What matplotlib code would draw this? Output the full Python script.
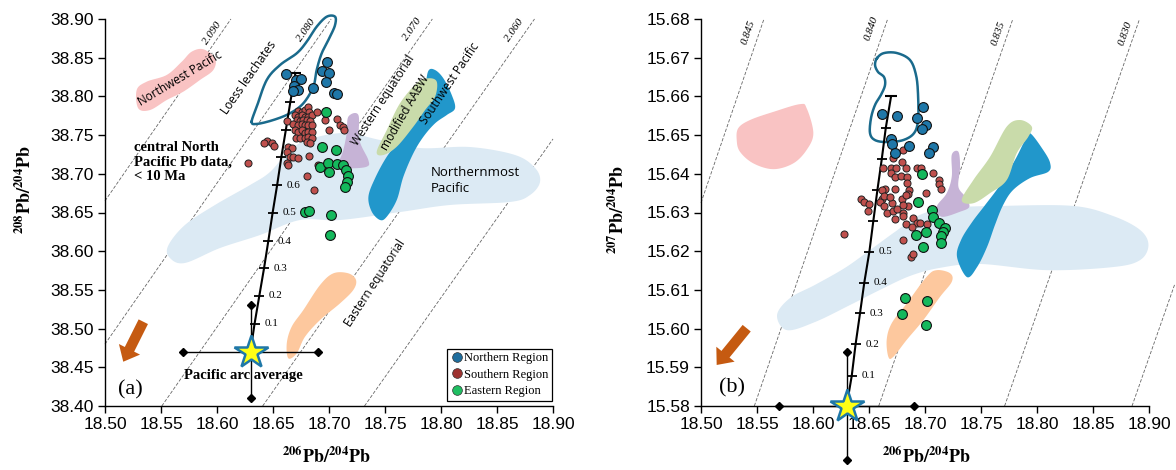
import numpy as np
import matplotlib
matplotlib.use('Agg')
import matplotlib.pyplot as plt
from matplotlib.lines import Line2D
from matplotlib.patches import FancyArrowPatch
from matplotlib.ticker import FormatStrFormatter

plt.rcParams['font.family'] = ['Liberation Sans', 'DejaVu Sans']
plt.rcParams['mathtext.fontset'] = 'stix'

SERIF = 'Liberation Serif'
REGION_FONT = 'Open Sans'

# ---------------- axes ----------------
x_ticks = [18.50, 18.55, 18.60, 18.65, 18.70, 18.75, 18.80, 18.85, 18.90]
y_ticks_a = [38.40, 38.45, 38.50, 38.55, 38.60, 38.65, 38.70, 38.75, 38.80, 38.85, 38.90]
y_ticks_b = [15.58, 15.59, 15.60, 15.61, 15.62, 15.63, 15.64, 15.65, 15.66, 15.67, 15.68]

# ---------------- sample data: 206Pb/204Pb vs 208Pb/204Pb ----------------
north_a_x = [18.6616, 18.6706, 18.6750, 18.6690, 18.6726, 18.6681, 18.6980,
             18.6935, 18.7003, 18.6971, 18.6860, 18.7048, 18.7069]
north_a_y = [38.8283, 38.8208, 38.8229, 38.8134, 38.8083, 38.8074, 38.8448,
             38.8328, 38.8306, 38.8190, 38.8112, 38.8048, 38.8027]

south_a_x = [18.6727, 18.6757, 18.6786, 18.6816, 18.6825, 18.6697, 18.6727, 18.6757,
             18.6786, 18.6816, 18.6846, 18.6712, 18.6742, 18.6771, 18.6801, 18.6831,
             18.6623, 18.6682, 18.6727, 18.6757, 18.6786, 18.6816, 18.6846, 18.6697,
             18.6727, 18.6757, 18.6786, 18.6816, 18.6846, 18.6706, 18.6742, 18.6786,
             18.6816, 18.6846, 18.6801, 18.6831, 18.6890, 18.6965, 18.7004, 18.7069,
             18.7099, 18.7129, 18.7135, 18.6638, 18.6667, 18.6623, 18.6652, 18.6682,
             18.6727, 18.6623, 18.6638, 18.6801, 18.6867, 18.6444, 18.6489, 18.6510,
             18.6420, 18.6280, 18.6825, 18.6905]
south_a_y = [38.7812, 38.7803, 38.7825, 38.7859, 38.7803, 38.7760, 38.7739, 38.7760,
             38.7739, 38.7739, 38.7760, 38.7696, 38.7683, 38.7696, 38.7696, 38.7683,
             38.7683, 38.7644, 38.7631, 38.7644, 38.7631, 38.7631, 38.7631, 38.7566,
             38.7545, 38.7566, 38.7523, 38.7545, 38.7545, 38.7459, 38.7459, 38.7459,
             38.7472, 38.7459, 38.7416, 38.7394, 38.7803, 38.7696, 38.7566, 38.7704,
             38.7631, 38.7609, 38.7566, 38.7351, 38.7329, 38.7286, 38.7222, 38.7222,
             38.7200, 38.7136, 38.7114, 38.6972, 38.6791, 38.7428, 38.7394, 38.7360,
             38.7394, 38.7136, 38.7230, 38.7114]

east_a_x = [18.6974, 18.6935, 18.7060, 18.6920, 18.6995, 18.7004, 18.7075, 18.7129,
            18.7152, 18.7173, 18.7164, 18.7143, 18.6786, 18.6825, 18.7016, 18.7010]
east_a_y = [38.7803, 38.7351, 38.7308, 38.7084, 38.7144, 38.7028, 38.7127, 38.7114,
            38.7049, 38.6972, 38.6899, 38.6834, 38.6511, 38.6524, 38.6468, 38.6210]

# ---------------- sample data: 206Pb/204Pb vs 207Pb/204Pb ----------------
north_b_x = [18.6614, 18.6747, 18.6932, 18.6986, 18.7009, 18.6970, 18.6694,
             18.6703, 18.6733, 18.6860, 18.7069, 18.7040]
north_b_y = [15.6554, 15.6549, 15.6543, 15.6573, 15.6526, 15.6515, 15.6489,
             15.6478, 15.6454, 15.6472, 15.6470, 15.6454]

south_b_x = [18.6807, 18.6712, 18.6792, 18.6622, 18.6697, 18.6742, 18.6828, 18.6697,
             18.6733, 18.6783, 18.6837, 18.6926, 18.6962, 18.7069, 18.7128, 18.7128,
             18.7140, 18.7010, 18.6843, 18.6861, 18.6733, 18.6643, 18.6614, 18.6852,
             18.6792, 18.6852, 18.6831, 18.6614, 18.6599, 18.6634, 18.6703, 18.6426,
             18.6456, 18.6503, 18.6495, 18.6658, 18.6718, 18.6807, 18.6733, 18.6801,
             18.6831, 18.6890, 18.6926, 18.6956, 18.7021, 18.6881, 18.6277, 18.6801,
             18.6872, 18.6896, 18.6634, 18.6688, 18.6747, 18.6807]
south_b_y = [15.6461, 15.6440, 15.6431, 15.6414, 15.6414, 15.6416, 15.6416, 15.6403,
             15.6392, 15.6394, 15.6391, 15.6416, 15.6416, 15.6403, 15.6385, 15.6373,
             15.6360, 15.6351, 15.6375, 15.6358, 15.6360, 15.6362, 15.6358, 15.6349,
             15.6336, 15.6317, 15.6345, 15.6336, 15.6328, 15.6317, 15.6325, 15.6336,
             15.6328, 15.6322, 15.6304, 15.6298, 15.6304, 15.6298, 15.6282, 15.6291,
             15.6270, 15.6285, 15.6272, 15.6274, 15.6270, 15.6263, 15.6245, 15.6230,
             15.6186, 15.6192, 15.6342, 15.6341, 15.6310, 15.6319]

east_b_x = [18.6970, 18.6940, 18.7060, 18.7074, 18.7128, 18.7178, 18.7163, 18.7143,
            18.7140, 18.7009, 18.6920, 18.6980, 18.6821, 18.7020, 18.6791, 18.7009]
east_b_y = [15.6400, 15.6328, 15.6306, 15.6289, 15.6273, 15.6259, 15.6250, 15.6239,
            15.6220, 15.6250, 15.6242, 15.6211, 15.6080, 15.6071, 15.6039, 15.6010]

# ---------------- Pacific arc average and mixing curve ----------------
arc_x, arc_xerr = 18.63, 0.06
arc_a_y, arc_a_yerr = 38.47, 0.06
arc_b_y, arc_b_yerr = 15.58, 0.014

mix_frac = [0.0, 0.1, 0.2, 0.3, 0.4, 0.5, 0.6, 0.7, 0.8, 0.9, 1.0]
mix_a_x = [18.630, 18.6335, 18.6378, 18.6420, 18.6458, 18.6497, 18.6537, 18.6575, 18.6615, 18.6655, 18.6700]
mix_a_y = [38.4715, 38.506, 38.5425, 38.578, 38.613, 38.650, 38.6855, 38.722, 38.757, 38.793, 38.830]
mix_b_x = [18.630, 18.6346, 18.6380, 18.6420, 18.6458, 18.6503, 18.6539, 18.6575, 18.6614, 18.6650, 18.6697]
mix_b_y = [15.580, 15.5878, 15.5959, 15.6040, 15.6119, 15.6198, 15.6279, 15.6358, 15.6438, 15.6519, 15.6600]
mix_a_labelled = [0.1, 0.2, 0.3, 0.4, 0.5, 0.6]
mix_b_labelled = [0.1, 0.2, 0.3, 0.4, 0.5]

# reference lines of constant 208Pb/206Pb and 207Pb/206Pb
ratio_a = [2.090, 2.080, 2.070, 2.060, 2.050]
ratio_a_text = ['2.090', '2.080', '2.070', '2.060', None]
ratio_a_text_xy = [(18.596, 38.882), (18.680, 38.885), (18.774, 38.887), (18.865, 38.885)]
ratio_b = [0.845, 0.840, 0.835, 0.830, 0.825]
ratio_b_text = ['0.845', '0.840', '0.835', '0.830', None]
ratio_b_text_xy = [(18.542, 15.6767), (18.6524, 15.6776), (18.7655, 15.6763), (18.8787, 15.6763)]

# ---------------- published fields ----------------
nw_pacific_a = [(18.5283, 38.8083), (18.5372, 38.8190), (18.5551, 38.8277), (18.5685, 38.8448),
                (18.5774, 38.8578), (18.5878, 38.8609), (18.5982, 38.8492), (18.5967, 38.8341),
                (18.5848, 38.8212), (18.5699, 38.8061), (18.5551, 38.7953), (18.5402, 38.7824),
                (18.5297, 38.7846)]
loess_a = [(18.6310, 38.7673), (18.6355, 38.7867), (18.6444, 38.8212), (18.6563, 38.8406),
           (18.6712, 38.8557), (18.6801, 38.8707), (18.6890, 38.8901), (18.6980, 38.9030),
           (18.7054, 38.9030), (18.7054, 38.8922), (18.7009, 38.8771), (18.6935, 38.8557),
           (18.6890, 38.8341), (18.6860, 38.8125), (18.6771, 38.7911), (18.6652, 38.7782),
           (18.6503, 38.7695), (18.6355, 38.7644)]
northernmost_a = [(18.5563, 38.6067), (18.5714, 38.6339), (18.5982, 38.6597), (18.6295, 38.6855),
                  (18.6473, 38.7023), (18.6652, 38.7308), (18.6831, 38.7450), (18.7143, 38.7527),
                  (18.7455, 38.7437), (18.7813, 38.7333), (18.8259, 38.7346), (18.8661, 38.7243),
                  (18.8840, 38.7075), (18.8884, 38.6894), (18.8795, 38.6726), (18.8616, 38.6636),
                  (18.8080, 38.6597), (18.7634, 38.6506), (18.7099, 38.6403), (18.6741, 38.6403),
                  (18.6384, 38.6209), (18.6027, 38.6041), (18.5714, 38.5848), (18.5580, 38.5912)]
w_equatorial_a = [(18.7173, 38.7738), (18.7262, 38.7760), (18.7271, 38.7437), (18.7351, 38.7178),
                  (18.7337, 38.7092), (18.7188, 38.7071), (18.7083, 38.7092), (18.7128, 38.7308),
                  (18.7158, 38.7523)]
aabw_a = [(18.7426, 38.7286), (18.7516, 38.7566), (18.7634, 38.7911), (18.7783, 38.8169),
          (18.7887, 38.8234), (18.7962, 38.8190), (18.7947, 38.7996), (18.7858, 38.7824),
          (18.7753, 38.7609), (18.7605, 38.7350), (18.7485, 38.7243)]
sw_pacific_a = [(18.7888, 38.8332), (18.7947, 38.8341), (18.8021, 38.8234), (18.8096, 38.8018),
                (18.8125, 38.7846), (18.8052, 38.7760), (18.7947, 38.7652), (18.7843, 38.7479),
                (18.7753, 38.7265), (18.7664, 38.6962), (18.7605, 38.6661), (18.7516, 38.6446),
                (18.7456, 38.6403), (18.7382, 38.6510), (18.7352, 38.6704), (18.7411, 38.6942),
                (18.7516, 38.7221), (18.7634, 38.7437), (18.7723, 38.7609), (18.7813, 38.7867),
                (18.7858, 38.8125)]
e_equatorial_a = [(18.6637, 38.4616), (18.6623, 38.4810), (18.6667, 38.5025), (18.6771, 38.5240),
                  (18.6920, 38.5563), (18.7039, 38.5714), (18.7173, 38.5714), (18.7241, 38.5628),
                  (18.7217, 38.5499), (18.7099, 38.5327), (18.6920, 38.5111), (18.6786, 38.4895),
                  (18.6712, 38.4681)]

nw_pacific_b = [(18.5333, 15.6518), (18.5438, 15.6539), (18.5646, 15.6560), (18.5884, 15.6580),
                (18.5944, 15.6569), (18.6003, 15.6505), (18.5944, 15.6462), (18.5824, 15.6427),
                (18.5646, 15.6412), (18.5467, 15.6427), (18.5348, 15.6457), (18.5319, 15.6487)]
loess_b = [(18.6572, 15.6699), (18.6634, 15.6712), (18.6750, 15.6712), (18.6866, 15.6694),
           (18.6920, 15.6655), (18.6938, 15.6604), (18.6938, 15.6539), (18.6902, 15.6505),
           (18.6804, 15.6487), (18.6661, 15.6482), (18.6554, 15.6487), (18.6509, 15.6505),
           (18.6518, 15.6544), (18.6554, 15.6578), (18.6607, 15.6604), (18.6643, 15.6629),
           (18.6634, 15.6650), (18.6581, 15.6663), (18.6554, 15.6681)]
northernmost_b = [(18.5679, 15.6035), (18.5795, 15.6079), (18.6018, 15.6113), (18.6286, 15.6157),
                  (18.6509, 15.6203), (18.6732, 15.6250), (18.6956, 15.6294), (18.7224, 15.6312),
                  (18.7670, 15.6317), (18.8322, 15.6317), (18.8679, 15.6291), (18.8920, 15.6255),
                  (18.8995, 15.6216), (18.8920, 15.6177), (18.8679, 15.6159), (18.8090, 15.6151),
                  (18.7491, 15.6167), (18.7134, 15.6157), (18.6866, 15.6136), (18.6598, 15.6100),
                  (18.6331, 15.6061), (18.6018, 15.6017), (18.5768, 15.5996)]
w_equatorial_b = [(18.7239, 15.6449), (18.7298, 15.6457), (18.7313, 15.6418), (18.7298, 15.6367),
                  (18.7358, 15.6341), (18.7396, 15.6315), (18.7313, 15.6302), (18.7149, 15.6289),
                  (18.7105, 15.6315), (18.7194, 15.6350), (18.7239, 15.6393)]
aabw_b = [(18.7328, 15.6332), (18.7432, 15.6384), (18.7581, 15.6444), (18.7730, 15.6522),
          (18.7849, 15.6539), (18.7953, 15.6522), (18.7923, 15.6496), (18.7819, 15.6453),
          (18.7730, 15.6384), (18.7581, 15.6350), (18.7432, 15.6324)]
sw_pacific_b = [(18.7938, 15.6505), (18.8054, 15.6462), (18.8117, 15.6428), (18.8099, 15.6405),
                (18.7938, 15.6389), (18.7786, 15.6358), (18.7697, 15.6319), (18.7625, 15.6268),
                (18.7554, 15.6211), (18.7465, 15.6159), (18.7375, 15.6133), (18.7286, 15.6185),
                (18.7322, 15.6229), (18.7420, 15.6275), (18.7536, 15.6319), (18.7670, 15.6371),
                (18.7804, 15.6436), (18.7893, 15.6487)]
e_equatorial_b = [(18.6673, 15.5927), (18.6658, 15.5971), (18.6703, 15.6014), (18.6837, 15.6065),
                  (18.7015, 15.6134), (18.7105, 15.6151), (18.7224, 15.6143), (18.7239, 15.6121),
                  (18.7134, 15.6082), (18.6985, 15.6022), (18.6837, 15.5971), (18.6717, 15.5927)]

# colours
C_NORTH = '#1f77a8'
C_SOUTH = '#c0504d'
C_EAST = '#14b85c'
C_NWP = '#f9c3c3'
C_LOESS = '#1a6a8c'
C_NMP = '#dceaf4'
C_WEQ = '#c6b3d6'
C_AABW = '#c9dbaa'
C_SWP = '#2197cb'
C_EEQ = '#fdc89e'
C_ARROW = '#c55a11'


def smooth_closed(pts, n=20):
    """Closed Catmull-Rom curve through the outline vertices."""
    p = np.asarray(pts, dtype=float)
    P = np.vstack([p[-1], p, p[0], p[1]])
    t = np.linspace(0, 1, n, endpoint=False)[:, None]
    segs = []
    for i in range(1, len(p) + 1):
        p0, p1, p2, p3 = P[i - 1], P[i], P[i + 1], P[i + 2]
        segs.append(0.5 * (2 * p1 + (-p0 + p2) * t + (2 * p0 - 5 * p1 + 4 * p2 - p3) * t ** 2
                           + (-p0 + 3 * p1 - 3 * p2 + p3) * t ** 3))
    c = np.vstack(segs)
    return np.vstack([c, c[:1]])


def field(ax, pts, color, outline=False):
    c = smooth_closed(pts)
    if outline:
        ax.plot(c[:, 0], c[:, 1], color=color, lw=1.8, zorder=3, clip_on=False)
    else:
        ax.fill(c[:, 0], c[:, 1], color=color, lw=0, zorder=2)


def setup(ax, yticks, fmt):
    ax.set_xlim(x_ticks[0], x_ticks[-1])
    ax.set_ylim(yticks[0], yticks[-1])
    ax.set_xticks(x_ticks)
    ax.set_yticks(yticks)
    ax.xaxis.set_major_formatter(FormatStrFormatter('%.2f'))
    ax.yaxis.set_major_formatter(FormatStrFormatter(fmt))
    for s in ['top', 'right']:
        ax.spines[s].set_visible(False)
    for s in ['left', 'bottom']:
        ax.spines[s].set_linewidth(1.0)
    ax.tick_params(direction='out', length=5, width=1, labelsize=12.5, pad=3)


def ratio_lines(ax, ratios, texts, text_xy, ylo, yhi, xmax):
    for r, t in zip(ratios, texts):
        x0 = max(x_ticks[0], ylo / r)
        x1 = min(xmax, yhi / r)
        ax.plot([x0, x1], [r * x0, r * x1], color='#666666', lw=0.6,
                ls=(0, (4, 2)), zorder=1, clip_on=False)
    for r, t, (tx, ty) in zip(ratios, texts, text_xy):
        p = ax.transData.transform([(18.6, r * 18.6), (18.7, r * 18.7)])
        ang = np.degrees(np.arctan2(p[1, 1] - p[0, 1], p[1, 0] - p[0, 0]))
        ax.text(tx, ty, t, rotation=ang, fontsize=8, family=SERIF, style='italic',
                ha='center', va='center', zorder=1)


def mixing(ax, mx, my, labelled):
    ax.plot(mx, my, color='black', lw=1.5, zorder=4)
    ax.plot(mx[1:-1], my[1:-1], ls='none', marker='_', ms=7, mew=1.3, color='black', zorder=4)
    ax.plot(mx[-1], my[-1], ls='none', marker='_', ms=9, mew=1.5, color='black', zorder=4)
    for f, x, y in zip(mix_frac, mx, my):
        if f in labelled:
            ax.annotate(f'{f:.1f}', (x, y), xytext=(7, 0), textcoords='offset points',
                        fontsize=8, family=SERIF, va='center', ha='left', zorder=4)


def arc_average(ax, y, yerr):
    kw = dict(color='black', lw=1.0, zorder=5, clip_on=False)
    ax.plot([arc_x - arc_xerr, arc_x + arc_xerr], [y, y], **kw)
    ax.plot([arc_x, arc_x], [y - yerr, y + yerr], **kw)
    ax.plot([arc_x - arc_xerr, arc_x + arc_xerr, arc_x, arc_x], [y, y, y - yerr, y + yerr],
            ls='none', marker='D', ms=4, color='black', zorder=5, clip_on=False)
    ax.plot(arc_x, y, marker='*', ms=25, mfc='#ffff14', mec='#1f78a8', mew=1.8,
            zorder=7, clip_on=False)


def points(ax, nx, ny, sx, sy, ex, ey):
    ax.scatter(sx, sy, s=26, c=C_SOUTH, edgecolors='#222222', linewidths=0.7, zorder=6)
    ax.scatter(nx, ny, s=50, c=C_NORTH, edgecolors='#111111', linewidths=0.8, zorder=6)
    ax.scatter(ex, ey, s=50, c=C_EAST, edgecolors='#111111', linewidths=0.8, zorder=6)


def arrow(ax, tail, tip):
    ax.add_patch(FancyArrowPatch(tail, tip, arrowstyle='simple,head_width=1.7,head_length=1.0,tail_width=0.75',
                                 mutation_scale=10, color=C_ARROW, lw=0, shrinkA=0, shrinkB=0, zorder=5))


def axis_labels(ax, ylabel, xpos, ypos):
    ax.set_xlabel(r'$\mathbf{^{206}Pb/^{204}Pb}$', fontsize=13)
    ax.set_ylabel(ylabel, fontsize=13)
    ax.xaxis.label.set_va('center')
    ax.yaxis.label.set_va('center')
    ax.xaxis.set_label_coords(xpos[0], xpos[1])
    ax.yaxis.set_label_coords(ypos[0], ypos[1])


fig = plt.figure(figsize=(11.76, 4.70), dpi=100)
ax_a = fig.add_axes([105 / 1176, 64 / 470, 448 / 1176, 387 / 470])
ax_b = fig.add_axes([701 / 1176, 64 / 470, 448 / 1176, 387 / 470])

# ================= panel (a) =================
setup(ax_a, y_ticks_a, '%.2f')
ratio_lines(ax_a, ratio_a, ratio_a_text, ratio_a_text_xy, y_ticks_a[0], y_ticks_a[-1], x_ticks[-1])
field(ax_a, northernmost_a, C_NMP)
field(ax_a, nw_pacific_a, C_NWP)
field(ax_a, w_equatorial_a, C_WEQ)
field(ax_a, sw_pacific_a, C_SWP)
field(ax_a, aabw_a, C_AABW)
field(ax_a, e_equatorial_a, C_EEQ)
field(ax_a, loess_a, C_LOESS, outline=True)
mixing(ax_a, mix_a_x, mix_a_y, mix_a_labelled)
arc_average(ax_a, arc_a_y, arc_a_yerr)
points(ax_a, north_a_x, north_a_y, south_a_x, south_a_y, east_a_x, east_a_y)
arrow(ax_a, (18.5342, 38.5089), (18.5163, 38.4572))

rkw = dict(family=REGION_FONT, fontsize=8.5, ha='center', va='center', zorder=3)
ax_a.text(18.567, 38.8234, 'Northwest Pacific', rotation=31, **rkw)
ax_a.text(18.6286, 38.8247, 'Loess leachates', rotation=55, **rkw)
ax_a.text(18.748, 38.7954, 'Western equatorial', rotation=57, **rkw)
ax_a.text(18.7679, 38.779, 'modified AABW', rotation=60, **rkw)
ax_a.text(18.808, 38.817, 'Southwest Pacific', rotation=56, **rkw)
ax_a.text(18.7411, 38.559, 'Eastern equatorial', rotation=57, **rkw)
ax_a.text(18.7908, 38.6907, 'Northernmost\nPacific', family=REGION_FONT, fontsize=9.5,
          ha='left', va='center', linespacing=1.3, zorder=3)
ax_a.text(18.526, 38.7152, 'central North\nPacific Pb data,\n< 10 Ma', family=SERIF,
          fontsize=10.5, fontweight='bold', ha='left', va='center', linespacing=1.15)
ax_a.text(18.6235, 38.440, 'Pacific arc average', family=SERIF, fontsize=10.5,
          fontweight='bold', ha='center', va='center', zorder=8)
ax_a.text(18.5223, 38.4207, '(a)', family=SERIF, fontsize=16, ha='center', va='center')

axis_labels(ax_a, r'$\mathbf{^{208}Pb/^{204}Pb}$', (0.495, -0.131), (-0.179, 0.558))

handles = [Line2D([], [], ls='none', marker='o', ms=7, mfc=c, mec='#333333', mew=0.5)
           for c in ['#1f6e9e', '#9e3230', '#1fbf62']]
leg = ax_a.legend(handles, ['Northern Region', 'Southern Region', 'Eastern Region'],
                  loc='lower right', bbox_to_anchor=(0.998, 0.013), frameon=True,
                  fancybox=False, edgecolor='black', framealpha=1, borderpad=0.3,
                  handletextpad=0.05, handlelength=1.0, labelspacing=0.35, borderaxespad=0,
                  prop={'family': SERIF, 'size': 9})
leg.get_frame().set_linewidth(0.9)
leg.set_zorder(9)

# ================= panel (b) =================
setup(ax_b, y_ticks_b, '%.2f')
ratio_lines(ax_b, ratio_b, ratio_b_text, ratio_b_text_xy, y_ticks_b[0], y_ticks_b[-1], 18.923)
field(ax_b, northernmost_b, C_NMP)
field(ax_b, nw_pacific_b, C_NWP)
field(ax_b, w_equatorial_b, C_WEQ)
field(ax_b, sw_pacific_b, C_SWP)
field(ax_b, aabw_b, C_AABW)
field(ax_b, e_equatorial_b, C_EEQ)
field(ax_b, loess_b, C_LOESS, outline=True)
mixing(ax_b, mix_b_x, mix_b_y, mix_b_labelled)
arc_average(ax_b, arc_b_y, arc_b_yerr)
points(ax_b, north_b_x, north_b_y, south_b_x, south_b_y, east_b_x, east_b_y)
arrow(ax_b, (18.5408, 15.6001), (18.5140, 15.5906))
ax_b.text(18.5274, 15.5848, '(b)', family=SERIF, fontsize=16, ha='center', va='center')

axis_labels(ax_b, r'$\mathbf{^{207}Pb/^{204}Pb}$', (0.503, -0.131), (-0.185, 0.506))

fig.savefig('out.png', dpi=100)
